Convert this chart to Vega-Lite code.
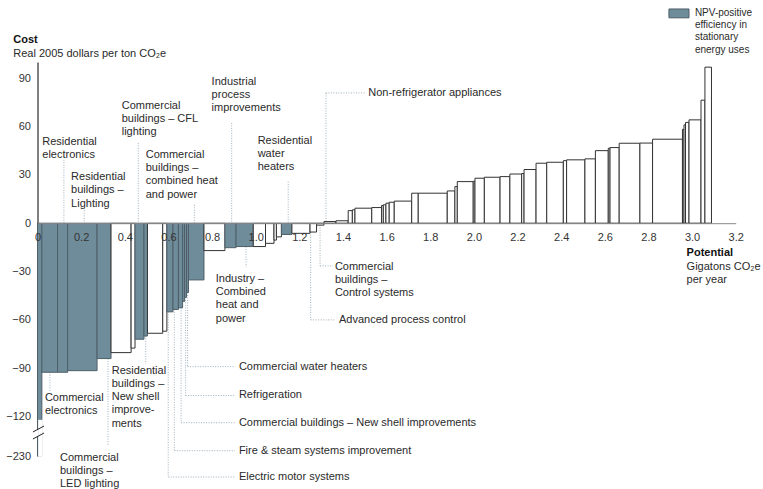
{
  "$schema": "https://vega.github.io/schema/vega-lite/v6.json",
  "width": 698.2,
  "height": 394,
  "autosize": "none",
  "padding": {"left": 37.5, "top": 62, "right": 27.3, "bottom": 33},
  "background": "white",
  "config": {
    "view": {"stroke": null},
    "font": "Liberation Sans",
    "text": {"font": "Liberation Sans"},
    "axis": {"labelFont": "Liberation Sans"}
  },
  "encoding": {
    "x": {
      "field": "x", "type": "quantitative",
      "scale": {"domain": [0, 3.2], "nice": false, "zero": false},
      "axis": {
        "values": [0, 0.2, 0.4, 0.6, 0.8, 1.0, 1.2, 1.4, 1.6, 1.8, 2.0, 2.2, 2.4, 2.6, 2.8, 3.0, 3.2],
        "labelExpr": "datum.value == 0 ? '0' : format(datum.value, '.1f')",
        "orient": "bottom", "offset": -232.8, "ticks": false, "tickSize": 0, "zindex": 1,
        "domainColor": "#888888", "labelColor": "#333333", "labelFontSize": 11,
        "labelPadding": 8, "grid": false, "title": null, "labelFlush": false, "labelOverlap": false
      }
    },
    "y": {
      "field": "y", "type": "quantitative",
      "scale": {"domain": [-230, -120, 100], "range": [394, 354.6, 0], "nice": false, "zero": false},
      "axis": {
        "values": [-230, -120, -90, -60, -30, 0, 30, 60, 90],
        "ticks": false, "tickSize": 0, "domainColor": "#000000", "labelColor": "#333333",
        "labelFontSize": 11, "labelPadding": 7, "grid": false, "title": null, "labelOverlap": false
      }
    }
  },
  "layer": [
    {
      "data": {"values": [
        {"x": 0.121, "y": 39.3, "x2": 0.121, "y2": 0},
        {"x": 0.214, "y": 9.5, "x2": 0.214, "y2": 0},
        {"x": 0.462, "y": 49.8, "x2": 0.462, "y2": 0},
        {"x": 0.719, "y": 11.4, "x2": 0.719, "y2": 0},
        {"x": 0.890, "y": 62.2, "x2": 0.890, "y2": 0},
        {"x": 1.149, "y": 25.8, "x2": 1.149, "y2": 0},
        {"x": 1.322, "y": 80.8, "x2": 1.322, "y2": 0.8},
        {"x": 1.322, "y": 80.8, "x2": 1.501, "y2": 80.8},
        {"x": 0.057, "y": -92.5, "x2": 0.057, "y2": -104.7},
        {"x": 0.323, "y": -84, "x2": 0.323, "y2": -199.3},
        {"x": 0.496, "y": -70, "x2": 0.496, "y2": -87.3},
        {"x": 0.956, "y": -14.5, "x2": 0.956, "y2": -27.1},
        {"x": 0.688, "y": -43, "x2": 0.688, "y2": -89.0},
        {"x": 0.688, "y": -89.0, "x2": 0.905, "y2": -89.0},
        {"x": 0.679, "y": -46, "x2": 0.679, "y2": -106.9},
        {"x": 0.679, "y": -106.9, "x2": 0.905, "y2": -106.9},
        {"x": 0.658, "y": -52.5, "x2": 0.658, "y2": -137.0},
        {"x": 0.658, "y": -137.0, "x2": 0.905, "y2": -137.0},
        {"x": 0.627, "y": -53.5, "x2": 0.627, "y2": -215.2},
        {"x": 0.627, "y": -215.2, "x2": 0.905, "y2": -215.2},
        {"x": 0.599, "y": -55, "x2": 0.599, "y2": -288.6},
        {"x": 0.599, "y": -288.6, "x2": 0.905, "y2": -288.6},
        {"x": 1.295, "y": -1.2, "x2": 1.295, "y2": -26.5},
        {"x": 1.295, "y": -26.5, "x2": 1.354, "y2": -26.5},
        {"x": 1.252, "y": -5.5, "x2": 1.252, "y2": -60},
        {"x": 1.252, "y": -60, "x2": 1.363, "y2": -60}
      ]},
      "mark": {"type": "rule", "color": "#9DB0BD", "strokeWidth": 1, "strokeDash": [1, 1.5]},
      "encoding": {"x2": {"field": "x2"}, "y2": {"field": "y2"}}
    },
    {
      "data": {"values": [
        {"x": 0, "x2": 0.020, "y": -230, "group": "NPV-positive"},
        {"x": 0.020, "x2": 0.092, "y": -92.5, "group": "NPV-positive"},
        {"x": 0.092, "x2": 0.138, "y": -92.5, "group": "NPV-positive"},
        {"x": 0.138, "x2": 0.273, "y": -91.5, "group": "NPV-positive"},
        {"x": 0.273, "x2": 0.337, "y": -84, "group": "NPV-positive"},
        {"x": 0.337, "x2": 0.429, "y": -80.3, "group": "Other"},
        {"x": 0.429, "x2": 0.447, "y": -77.5, "group": "Other"},
        {"x": 0.447, "x2": 0.488, "y": -72, "group": "NPV-positive"},
        {"x": 0.488, "x2": 0.504, "y": -70, "group": "NPV-positive"},
        {"x": 0.504, "x2": 0.574, "y": -68.3, "group": "Other"},
        {"x": 0.574, "x2": 0.593, "y": -67, "group": "Other"},
        {"x": 0.593, "x2": 0.621, "y": -55, "group": "NPV-positive"},
        {"x": 0.621, "x2": 0.646, "y": -53.5, "group": "NPV-positive"},
        {"x": 0.646, "x2": 0.665, "y": -52.5, "group": "NPV-positive"},
        {"x": 0.665, "x2": 0.674, "y": -48.5, "group": "NPV-positive"},
        {"x": 0.674, "x2": 0.683, "y": -46, "group": "NPV-positive"},
        {"x": 0.683, "x2": 0.692, "y": -43, "group": "NPV-positive"},
        {"x": 0.692, "x2": 0.763, "y": -35.2, "group": "NPV-positive"},
        {"x": 0.763, "x2": 0.859, "y": -17, "group": "Other"},
        {"x": 0.859, "x2": 0.910, "y": -15.2, "group": "NPV-positive"},
        {"x": 0.910, "x2": 0.989, "y": -14.5, "group": "NPV-positive"},
        {"x": 0.989, "x2": 1.045, "y": -14.5, "group": "Other"},
        {"x": 1.045, "x2": 1.084, "y": -12.5, "group": "Other"},
        {"x": 1.084, "x2": 1.095, "y": -10.5, "group": "Other"},
        {"x": 1.095, "x2": 1.118, "y": -8.5, "group": "Other"},
        {"x": 1.118, "x2": 1.166, "y": -7, "group": "NPV-positive"},
        {"x": 1.166, "x2": 1.249, "y": -6.3, "group": "Other"},
        {"x": 1.249, "x2": 1.279, "y": -5.5, "group": "Other"},
        {"x": 1.279, "x2": 1.313, "y": -1.2, "group": "Other"},
        {"x": 1.313, "x2": 1.368, "y": 1.0, "group": "Other"},
        {"x": 1.368, "x2": 1.424, "y": 1.5, "group": "Other"},
        {"x": 1.424, "x2": 1.443, "y": 7.8, "group": "Other"},
        {"x": 1.443, "x2": 1.455, "y": 8.3, "group": "Other"},
        {"x": 1.455, "x2": 1.532, "y": 9.3, "group": "Other"},
        {"x": 1.532, "x2": 1.577, "y": 9.7, "group": "Other"},
        {"x": 1.577, "x2": 1.585, "y": 11, "group": "Other"},
        {"x": 1.585, "x2": 1.597, "y": 11.4, "group": "Other"},
        {"x": 1.597, "x2": 1.612, "y": 12.4, "group": "Other"},
        {"x": 1.612, "x2": 1.635, "y": 13, "group": "Other"},
        {"x": 1.635, "x2": 1.715, "y": 13.7, "group": "Other"},
        {"x": 1.715, "x2": 1.745, "y": 18.6, "group": "Other"},
        {"x": 1.745, "x2": 1.878, "y": 18.6, "group": "Other"},
        {"x": 1.878, "x2": 1.913, "y": 20, "group": "Other"},
        {"x": 1.913, "x2": 1.924, "y": 22.7, "group": "Other"},
        {"x": 1.924, "x2": 1.997, "y": 25.8, "group": "Other"},
        {"x": 1.997, "x2": 2.005, "y": 26, "group": "Other"},
        {"x": 2.005, "x2": 2.048, "y": 27.9, "group": "Other"},
        {"x": 2.048, "x2": 2.120, "y": 28.5, "group": "Other"},
        {"x": 2.120, "x2": 2.165, "y": 28.9, "group": "Other"},
        {"x": 2.165, "x2": 2.219, "y": 30.5, "group": "Other"},
        {"x": 2.219, "x2": 2.230, "y": 30.8, "group": "Other"},
        {"x": 2.230, "x2": 2.285, "y": 33.3, "group": "Other"},
        {"x": 2.285, "x2": 2.334, "y": 37.2, "group": "Other"},
        {"x": 2.334, "x2": 2.410, "y": 37.8, "group": "Other"},
        {"x": 2.410, "x2": 2.425, "y": 38.8, "group": "Other"},
        {"x": 2.425, "x2": 2.509, "y": 39.3, "group": "Other"},
        {"x": 2.509, "x2": 2.557, "y": 39.9, "group": "Other"},
        {"x": 2.557, "x2": 2.616, "y": 45, "group": "Other"},
        {"x": 2.616, "x2": 2.624, "y": 46.5, "group": "Other"},
        {"x": 2.624, "x2": 2.666, "y": 46.9, "group": "Other"},
        {"x": 2.666, "x2": 2.761, "y": 49.6, "group": "Other"},
        {"x": 2.761, "x2": 2.819, "y": 49.7, "group": "Other"},
        {"x": 2.819, "x2": 2.956, "y": 52.1, "group": "Other"},
        {"x": 2.956, "x2": 2.963, "y": 58.2, "group": "Other"},
        {"x": 2.963, "x2": 2.970, "y": 61, "group": "Other"},
        {"x": 2.970, "x2": 2.986, "y": 62.5, "group": "Other"},
        {"x": 2.986, "x2": 3.041, "y": 64.1, "group": "Other"},
        {"x": 3.041, "x2": 3.059, "y": 76.3, "group": "Other"},
        {"x": 3.059, "x2": 3.089, "y": 96.8, "group": "Other"}
      ]},
      "mark": {"type": "rect", "strokeWidth": 1},
      "encoding": {
        "x2": {"field": "x2"},
        "y2": {"datum": 0},
        "fill": {"field": "group", "type": "nominal", "scale": {"domain": ["NPV-positive", "Other"], "range": ["#6F8C9B", "#FFFFFF"]}, "legend": null},
        "stroke": {"field": "group", "type": "nominal", "scale": {"domain": ["NPV-positive", "Other"], "range": ["#4F5F68", "#333333"]}, "legend": null}
      }
    },
    {
      "data": {"values": [
        {"x": 0.003, "x2": 0.024, "y": -129, "y2": -232},
        {"x": -0.01, "x2": 0.003, "y": -157, "y2": -175}
      ]},
      "mark": {"type": "rect", "fill": "white", "stroke": null},
      "encoding": {"x2": {"field": "x2"}, "y2": {"field": "y2"}}
    },
    {
      "data": {"values": [
        {"x": -0.021, "y": -163.0, "x2": 0.030, "y2": -146.2},
        {"x": -0.021, "y": -182.5, "x2": 0.030, "y2": -165.8}
      ]},
      "mark": {"type": "rule", "color": "#222222", "strokeWidth": 1},
      "encoding": {"x2": {"field": "x2"}, "y2": {"field": "y2"}}
    },
    {
      "data": {"values": [{"x": 2.894, "x2": 2.986, "y": 132.9, "y2": 127.4}]},
      "mark": {"type": "rect", "fill": "#6F8C9B", "stroke": "#4F5F68", "strokeWidth": 1},
      "encoding": {"x2": {"field": "x2"}, "y2": {"field": "y2"}}
    },
    {
      "data": {"values": [
        {"x": 0.022, "y": 54.1, "text": "Residential\nelectronics"},
        {"x": 0.154, "y": 32.3, "text": "Residential\nbuildings –\nLighting"},
        {"x": 0.386, "y": 76.7, "text": "Commercial\nbuildings – CFL\nlighting"},
        {"x": 0.496, "y": 46.1, "text": "Commercial\nbuildings –\ncombined heat\nand power"},
        {"x": 0.798, "y": 91.6, "text": "Industrial\nprocess\nimprovements"},
        {"x": 1.009, "y": 54.8, "text": "Residential\nwater\nheaters"},
        {"x": 0.034, "y": -104.8, "text": "Commercial\nelectronics"},
        {"x": 0.103, "y": -218.0, "text": "Commercial\nbuildings –\nLED lighting"},
        {"x": 0.340, "y": -87.7, "text": "Residential\nbuildings –\nNew shell\nimprove-\nments"},
        {"x": 0.817, "y": -30.8, "text": "Industry –\nCombined\nheat and\npower"},
        {"x": 1.363, "y": -23.2, "text": "Commercial\nbuildings –\nControl systems"}
      ]},
      "mark": {"type": "text", "align": "left", "baseline": "top", "fontSize": 11, "lineHeight": 13.3, "lineBreak": "\n", "color": "#2a2a2a"},
      "encoding": {"text": {"field": "text"}}
    },
    {
      "data": {"values": [
        {"x": 1.516, "y": 81.0, "text": "Non-refrigerator appliances"},
        {"x": 0.923, "y": -89.0, "text": "Commercial water heaters"},
        {"x": 0.923, "y": -106.9, "text": "Refrigeration"},
        {"x": 0.923, "y": -137.0, "text": "Commercial buildings – New shell improvements"},
        {"x": 0.923, "y": -215.2, "text": "Fire & steam systems improvement"},
        {"x": 0.923, "y": -288.6, "text": "Electric motor systems"},
        {"x": 1.382, "y": -60.0, "text": "Advanced process control"},
        {"x": -0.111, "y": 105.0, "text": "Real 2005 dollars per ton CO₂e"},
        {"x": 2.975, "y": -27.1, "text": "Gigatons CO₂e"},
        {"x": 2.975, "y": -35.2, "text": "per year"}
      ]},
      "mark": {"type": "text", "align": "left", "baseline": "middle", "fontSize": 11, "color": "#2a2a2a"},
      "encoding": {"text": {"field": "text"}}
    },
    {
      "data": {"values": [
        {"x": -0.111, "y": 113.4, "text": "Cost"},
        {"x": 2.975, "y": -18.6, "text": "Potential"}
      ]},
      "mark": {"type": "text", "align": "left", "baseline": "middle", "fontSize": 11, "fontWeight": "bold", "color": "#111111"},
      "encoding": {"text": {"field": "text"}}
    },
    {
      "data": {"values": [
        {"x": 3.013, "y": 133.6, "text": "NPV-positive\nefficiency in\nstationary\nenergy uses"}
      ]},
      "mark": {"type": "text", "align": "left", "baseline": "top", "fontSize": 10, "lineHeight": 12.3, "lineBreak": "\n", "color": "#2a2a2a"},
      "encoding": {"text": {"field": "text"}}
    }
  ]
}
